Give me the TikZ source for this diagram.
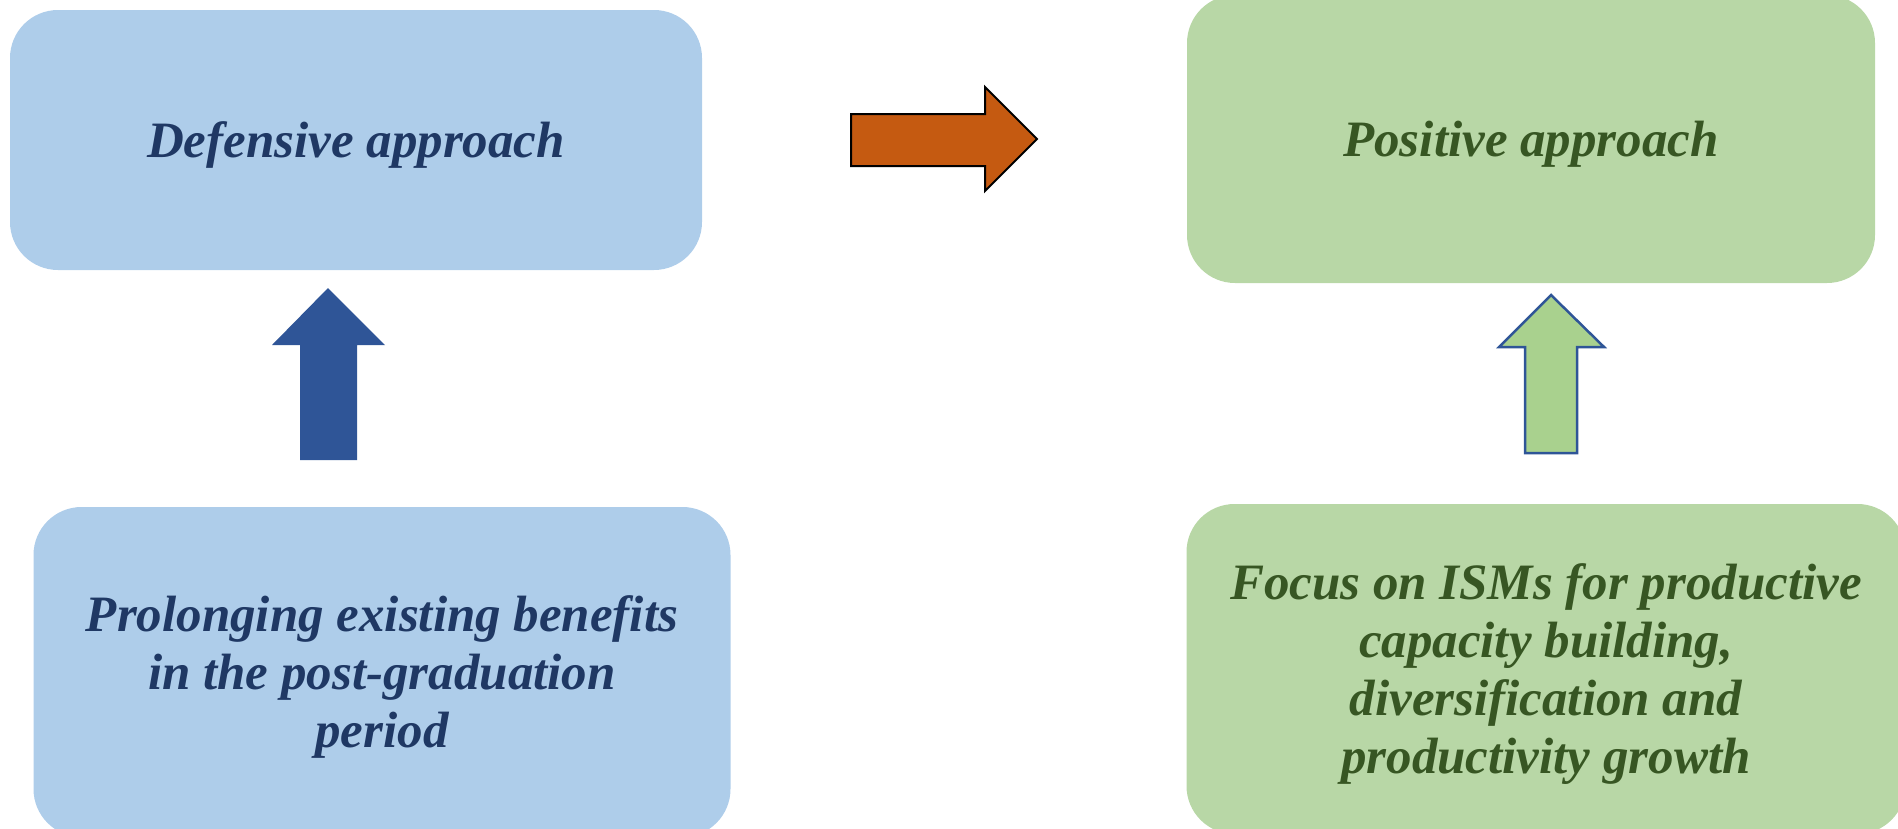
\documentclass[tikz,border=0pt]{standalone}
\usepackage{fontspec}
\setmainfont{Liberation Serif}
\usepackage{tikz}
\usetikzlibrary{calc}

\definecolor{boxblue}{HTML}{AECDEA}
\definecolor{txtblue}{HTML}{1F3864}
\definecolor{boxgreen}{HTML}{B8D7A6}
\definecolor{txtgreen}{HTML}{375623}
\definecolor{arrorange}{HTML}{C55A11}
\definecolor{arrblue}{HTML}{2F5597}
\definecolor{arrgreen}{HTML}{A9D18E}

\begin{document}
\begin{tikzpicture}[x=1pt,y=-1pt]
            \tikzstyle{box} = [rounded corners=48pt, align=center, inner sep=0pt, text depth=0pt, font=\fontsize{51}{58}\selectfont\bfseries\itshape]
            \tikzstyle{bluebox} = [box, fill=boxblue, text=txtblue]
            \tikzstyle{greenbox} = [box, fill=boxgreen, text=txtgreen]
            \useasboundingbox (0,0) rectangle (1898,828);

            \node (defensive) [bluebox, minimum width=692pt, minimum height=260pt] at (356,140) {Defensive approach};
            \node (positive) [greenbox, minimum width=688pt, minimum height=288pt] at (1531,139) {Positive approach};
            \node (prolong) [bluebox, minimum width=697pt, minimum height=330pt] at (382,672) {Prolonging existing benefits\\in the post-graduation\\period};
            \node (focus) [greenbox, minimum width=719pt, minimum height=330pt] at (1546,669) {Focus on ISMs for productive\\capacity building,\\diversification and\\productivity growth};

            % block arrows
            \draw [fill=arrorange, line width=2pt, line join=miter] (851,114) -- (985,114) -- (985,87) -- (1037,139) -- (985,191) -- (985,166) -- (851,166) -- cycle;
            \fill [arrblue] (328,288) -- (385,345) -- (357,345) -- (357,460) -- (300,460) -- (300,345) -- (272,345) -- cycle;
            \draw [fill=arrgreen, draw=arrblue, line width=2.5pt] (1551,295) -- (1604,347) -- (1577,347) -- (1577,453) -- (1525,453) -- (1525,347) -- (1499,347) -- cycle;
        \end{tikzpicture}
\end{document}
